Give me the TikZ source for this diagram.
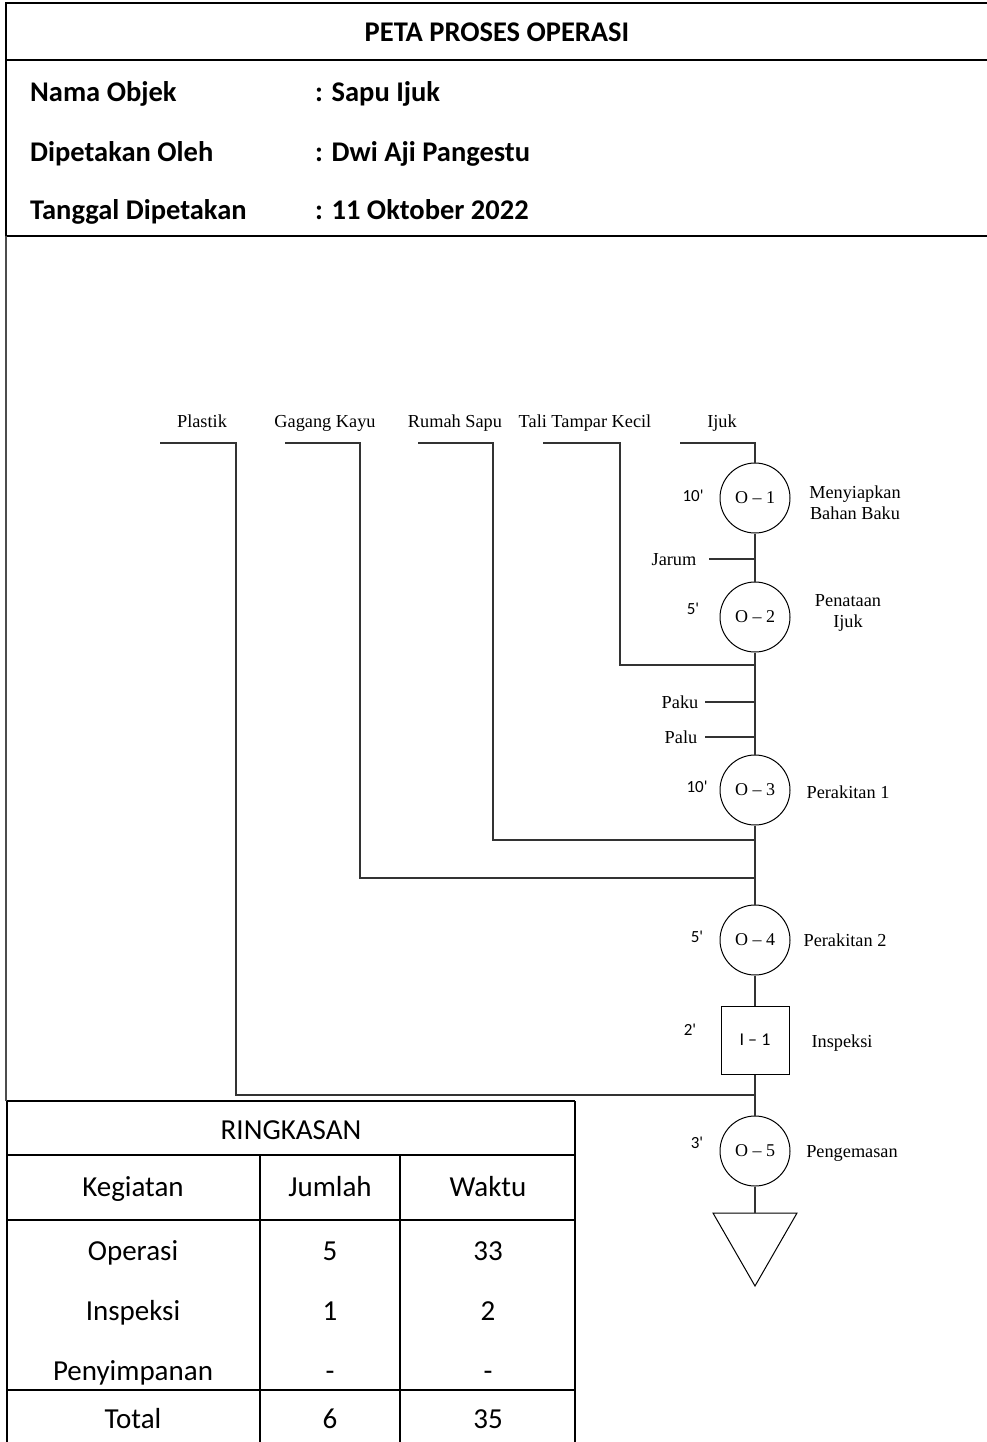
\documentclass[tikz,border=0pt]{standalone}
\usepackage{fontspec}
\setmainfont{Liberation Serif}
\newfontfamily\calibri{Carlito}
\begin{document}
\begin{tikzpicture}[x=1pt,y=-1pt,
  even/.style={text height=0.62em, text depth=0.18em},
  hdr/.style={font=\calibri\bfseries\fontsize{28.5}{32}\selectfont, inner sep=0pt, even, yshift=-6pt},
  tbl/.style={font=\calibri\fontsize{29}{32}\selectfont, inner sep=0pt, even, yshift=-6pt},
  lbl/.style={font=\fontsize{18.3}{21}\selectfont, inner sep=0pt, align=center},
  slbl/.style={lbl, even, yshift=-4pt},
  tm/.style={font=\calibri\fontsize{17}{20}\selectfont, inner sep=0pt, even, yshift=-4pt},
  op/.style={circle, draw, line width=1pt, minimum size=70pt, inner sep=0pt, font=\fontsize{18}{20}\selectfont},
  insp/.style={rectangle, draw, line width=1pt, minimum size=68pt, inner sep=0pt, font=\calibri\fontsize{18}{20}\selectfont},
  flow/.style={line width=1.2pt, draw=black!80},
  frame/.style={line width=2.6pt, line cap=rect},
  tline/.style={line width=2.8pt}
]
\useasboundingbox (0,0) rectangle (987,1442);
% ---------- header frame ----------
\draw[frame] (6,3) -- (990,3);
\draw[frame] (6,60) -- (990,60);
\draw[frame] (6,236) -- (990,236);
\draw[frame] (6,3) -- (6,236);
\draw[line width=1.4pt, draw=black!70] (6,236) -- (6,1101);
\node[hdr] (title) at (497,33) {PETA PROSES OPERASI};
\node[hdr, anchor=west] (k1) at (30,93) {Nama Objek};
\node[hdr, anchor=west] (v1) at (315,93) {: Sapu Ijuk};
\node[hdr, anchor=west] (k2) at (30,153) {Dipetakan Oleh};
\node[hdr, anchor=west] (v2) at (315,153) {: Dwi Aji Pangestu};
\node[hdr, anchor=west] (k3) at (30,211) {Tanggal Dipetakan};
\node[hdr, anchor=west] (v3) at (315,211) {: 11 Oktober 2022};
% ---------- material labels ----------
\node[slbl] (lPl) at (202,421) {Plastik};
\node[slbl] (lGa) at (325,421) {Gagang Kayu};
\node[slbl] (lRu) at (455,421) {Rumah Sapu};
\node[slbl] (lTa) at (585,421) {Tali Tampar Kecil};
\node[slbl] (lIj) at (722,421) {Ijuk};
% ---------- operations ----------
\node[op] (o1) at (755,498) {O – 1};
\node[op] (o2) at (755,617) {O – 2};
\node[op] (o3) at (755,790) {O – 3};
\node[op] (o4) at (755,940) {O – 4};
\node[insp] (i1) at (755,1040) {I – 1};
\node[op] (o5) at (755,1151) {O – 5};
\coordinate (triT) at (755,1213);
\coordinate (triL) at (713,1213);
\coordinate (triR) at (797,1213);
\coordinate (triB) at (755,1286);
\draw[line width=1pt] (triL) -- (triR) -- (triB) -- cycle;
% time labels
\node[tm] (t1) at (693,495) {10'};
\node[tm] (t2) at (693,608) {5'};
\node[tm] (t3) at (697,786) {10'};
\node[tm] (t4) at (697,936) {5'};
\node[tm] (t5) at (690,1029) {2'};
\node[tm] (t6) at (697,1142) {3'};
% description labels
\node[lbl] (d1) at (855,503) {Menyiapkan\\Bahan Baku};
\node[lbl] (d2) at (848,613) {Penataan\\Ijuk};
\node[slbl] (d3) at (848,792) {Perakitan 1};
\node[slbl] (d4) at (845,940) {Perakitan 2};
\node[slbl] (d5) at (842,1041) {Inspeksi};
\node[slbl] (d6) at (852,1151) {Pengemasan};
% ---------- spine ----------
\coordinate (ijS) at (680,443);
\coordinate (ijC) at (755,443);
\draw[flow] (ijS) -- (ijC) -- (o1);
\draw[flow] (o1) -- (o2);
\draw[flow] (o2) -- (o3);
\draw[flow] (o3) -- (o4);
\draw[flow] (o4) -- (i1);
\draw[flow] (i1) -- (o5);
\draw[flow] (o5) -- (triT);
% side inputs
\node[slbl] (lJa) at (674,559) {Jarum};
\coordinate (jaE) at (709,559);
\coordinate (jaJ) at (755,559);
\draw[flow] (jaE) -- (jaJ);
\node[slbl] (lPk) at (680,702) {Paku};
\coordinate (pkE) at (705,702);
\coordinate (pkJ) at (755,702);
\draw[flow] (pkE) -- (pkJ);
\node[slbl] (lPu) at (681,737) {Palu};
\coordinate (puE) at (705,737);
\coordinate (puJ) at (755,737);
\draw[flow] (puE) -- (puJ);
% material branches
\coordinate (plS) at (160,443); \coordinate (plC) at (236,443); \coordinate (plJ) at (755,1095);
\draw[flow] (plS) -- (plC) |- (plJ);
\coordinate (gaS) at (285,443); \coordinate (gaC) at (360,443); \coordinate (gaJ) at (755,878);
\draw[flow] (gaS) -- (gaC) |- (gaJ);
\coordinate (ruS) at (418,443); \coordinate (ruC) at (493,443); \coordinate (ruJ) at (755,840);
\draw[flow] (ruS) -- (ruC) |- (ruJ);
\coordinate (taS) at (543,443); \coordinate (taC) at (620,443); \coordinate (taJ) at (755,665);
\draw[flow] (taS) -- (taC) |- (taJ);
% ---------- summary table ----------
\draw[tline] (7,1101) -- (575,1101);
\draw[tline] (7,1101) -- (7,1450);
\draw[tline] (575,1101) -- (575,1450);
\draw[tline] (7,1155) -- (575,1155);
\draw[tline] (7,1220) -- (575,1220);
\draw[tline] (7,1390) -- (575,1390);
\draw[tline] (260,1155) -- (260,1450);
\draw[tline] (400,1155) -- (400,1450);
\node[tbl] (rk) at (291,1131) {RINGKASAN};
\node[tbl] (h1) at (133,1188) {Kegiatan};
\node[tbl] (h2) at (330,1188) {Jumlah};
\node[tbl] (h3) at (488,1188) {Waktu};
\node[tbl] (r1a) at (133,1252) {Operasi};
\node[tbl] (r1b) at (330,1252) {5};
\node[tbl] (r1c) at (488,1252) {33};
\node[tbl] (r2a) at (133,1312) {Inspeksi};
\node[tbl] (r2b) at (330,1312) {1};
\node[tbl] (r2c) at (488,1312) {2};
\node[tbl] (r3a) at (133,1372) {Penyimpanan};
\node[tbl] (r3b) at (330,1372) {-};
\node[tbl] (r3c) at (488,1372) {-};
\node[tbl] (r4a) at (133,1420) {Total};
\node[tbl] (r4b) at (330,1420) {6};
\node[tbl] (r4c) at (488,1420) {35};
\end{tikzpicture}
\end{document}
